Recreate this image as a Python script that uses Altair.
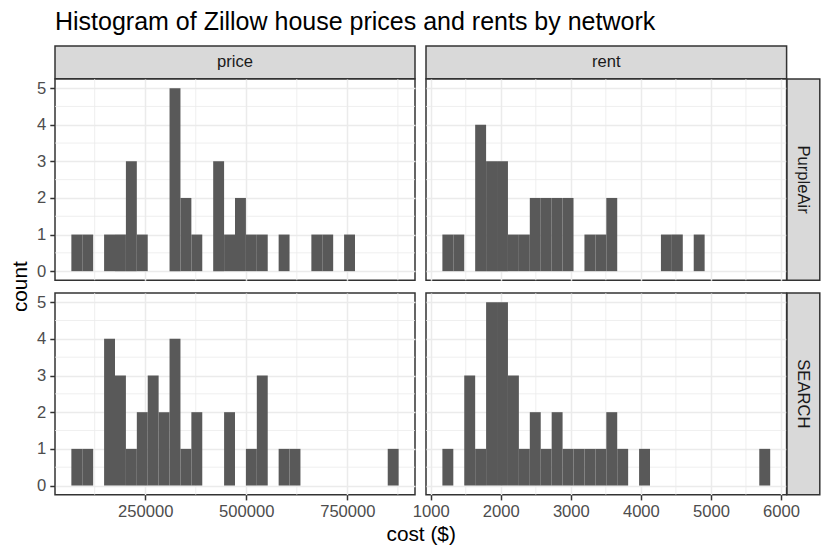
import altair as alt
import pandas as pd

TITLE = "Histogram of Zillow house prices and rents by network"
variables = ["price", "rent"]
networks = ["PurpleAir", "SEARCH"]
x_title = "cost ($)"
y_title = "count"

# counts per bin (30 bins per variable)
price_purpleair = [1, 1, 0, 1, 1, 3, 1, 0, 0, 5, 2, 1, 0, 3, 1, 2, 1, 1, 0, 1, 0, 0, 1, 1, 0, 1, 0, 0, 0, 0]
price_search = [1, 1, 0, 4, 3, 1, 2, 3, 2, 4, 1, 2, 0, 0, 2, 0, 1, 3, 0, 1, 1, 0, 0, 0, 0, 0, 0, 0, 0, 1]
rent_purpleair = [1, 1, 0, 4, 3, 3, 1, 1, 2, 2, 2, 2, 0, 1, 1, 2, 0, 0, 0, 0, 1, 1, 0, 1, 0, 0, 0, 0, 0, 0]
rent_search = [1, 0, 3, 1, 5, 5, 3, 1, 2, 1, 2, 1, 1, 1, 1, 2, 1, 0, 1, 0, 0, 0, 0, 0, 0, 0, 0, 0, 0, 1]

# histogram binning (30 bins)
price_bin_start = 67375
price_bin_width = 26982.5
rent_bin_start = 1166
rent_bin_width = 156.03

price_domain = [26901, 917324]
rent_domain = [932, 6081]
y_domain = [-0.25, 5.25]

price_major = [250000, 500000, 750000]
price_minor = [125000, 375000, 625000, 875000]
rent_major = [1000, 2000, 3000, 4000, 5000, 6000]
rent_minor = [1500, 2500, 3500, 4500, 5500]
y_major = [0, 1, 2, 3, 4, 5]
y_minor = [0.5, 1.5, 2.5, 3.5, 4.5]

FONT = "Liberation Sans"
BAR = "#595959"
GRID = "#EBEBEB"
BORDER = "#333333"
STRIP = "#D9D9D9"

panel_w = [360.0, 360.6]
panel_h = [201.3, 201.7]
strip_h = 32.8
strip_w = 32.8
col_gap = 10.7
row_gap = 11.35


def bins_df(start, width, counts):
    rows = []
    for i, c in enumerate(counts):
        if c > 0:
            rows.append({"start": start + i * width, "end": start + (i + 1) * width, "count": c})
    return pd.DataFrame(rows)


def spacer(w, h):
    return (
        alt.Chart(pd.DataFrame({"z": [0]}))
        .mark_point(opacity=0, size=0)
        .encode(x=alt.value(0), y=alt.value(0))
        .properties(width=w, height=h)
    )


def panel(col, row, counts, show_x, show_y, title_x=False, title_y=False):
    if col == 0:
        start, width, dom, major, minor = price_bin_start, price_bin_width, price_domain, price_major, price_minor
    else:
        start, width, dom, major, minor = rent_bin_start, rent_bin_width, rent_domain, rent_major, rent_minor
    w, h = panel_w[col], panel_h[row]
    df = bins_df(start, width, counts)
    xs = alt.Scale(domain=dom, nice=False, zero=False)
    ys = alt.Scale(domain=y_domain, nice=False, zero=False)
    xaxis_kw = dict(values=major, grid=True, labels=show_x, ticks=show_x, format="d",
                    labelFlush=False, labelOverlap=False)
    if title_x:
        xaxis_kw.update(title=x_title, titleX=(panel_w[0] + col_gap + panel_w[1]) / 2,
                        titleY=45.8, titleAlign="center", titleBaseline="alphabetic")
    else:
        xaxis_kw.update(title=None)
    yaxis_kw = dict(values=y_major, grid=True, labels=show_y, ticks=show_y, format="d",
                    labelOverlap=False)
    if title_y:
        yaxis_kw.update(title=y_title, titleX=-29, titleY=(panel_h[0] + row_gap + panel_h[1]) / 2,
                        titleAngle=270, titleAlign="center", titleBaseline="alphabetic")
    else:
        yaxis_kw.update(title=None)
    xaxis = alt.Axis(**xaxis_kw)
    yaxis = alt.Axis(**yaxis_kw)

    minor_x = alt.Chart(pd.DataFrame({"v": minor})).mark_rule(color=GRID, strokeWidth=0.8).encode(
        x=alt.X("v:Q", scale=xs, axis=xaxis))
    minor_y = alt.Chart(pd.DataFrame({"v": y_minor})).mark_rule(color=GRID, strokeWidth=0.8).encode(
        y=alt.Y("v:Q", scale=ys, axis=yaxis))
    bars = alt.Chart(df).mark_rect(color=BAR).encode(
        x=alt.X("start:Q", scale=xs, axis=xaxis),
        x2="end:Q",
        y=alt.Y("count:Q", scale=ys, axis=yaxis),
        y2=alt.datum(0),
    )
    return alt.layer(minor_x, minor_y, bars).properties(
        width=w, height=h,
        view=alt.ViewBackground(fill="white", stroke=BORDER, strokeWidth=1.5),
    )


def top_strip(label, w, title=None):
    ch = alt.Chart(pd.DataFrame({"label": [label]})).mark_text(
        font=FONT, fontSize=16.6, color="#1A1A1A", baseline="middle", align="center"
    ).encode(text="label:N", x=alt.value(w / 2), y=alt.value(strip_h / 2))
    props = dict(width=w, height=strip_h,
                 view=alt.ViewBackground(fill=STRIP, stroke=BORDER, strokeWidth=1.5))
    if title is not None:
        props["title"] = alt.Title(title, anchor="start", font=FONT, fontSize=25,
                                   fontWeight="normal", color="black", baseline="top",
                                   offset=11)
    return ch.properties(**props)


def row_strip(label, h):
    return alt.Chart(pd.DataFrame({"label": [label]})).mark_text(
        font=FONT, fontSize=16.6, color="#1A1A1A", baseline="middle", align="center", angle=90
    ).encode(text="label:N", x=alt.value(strip_w / 2), y=alt.value(h / 2)).properties(
        width=strip_w, height=h,
        view=alt.ViewBackground(fill=STRIP, stroke=BORDER, strokeWidth=1.5))


cells = [
    top_strip(variables[0], panel_w[0], TITLE), spacer(col_gap, strip_h),
    top_strip(variables[1], panel_w[1]), spacer(strip_w, strip_h),

    panel(0, 0, price_purpleair, False, True, title_y=True), spacer(col_gap, panel_h[0]),
    panel(1, 0, rent_purpleair, False, False), row_strip(networks[0], panel_h[0]),

    spacer(panel_w[0], row_gap), spacer(col_gap, row_gap),
    spacer(panel_w[1], row_gap), spacer(strip_w, row_gap),

    panel(0, 1, price_search, True, True, title_x=True), spacer(col_gap, panel_h[1]),
    panel(1, 1, rent_search, True, False), row_strip(networks[1], panel_h[1]),
]

chart = alt.concat(*cells, columns=4, spacing=0, bounds="flush", align="each").properties(
    padding={"left": 0, "top": 1, "right": 0, "bottom": 2}
).configure(font=FONT).configure_view(stroke=None).configure_axis(
    labelFont=FONT, labelFontSize=16.6, labelColor="#4D4D4D",
    tickColor=BORDER, tickSize=5.2, tickWidth=1.5, labelPadding=4,
    domain=False, gridColor=GRID, gridWidth=1.5,
    titleFont=FONT, titleFontSize=20.8, titleColor="black", titleFontWeight="normal",
)

chart.save("out.html", embed_options={"renderer": "svg", "actions": False})
